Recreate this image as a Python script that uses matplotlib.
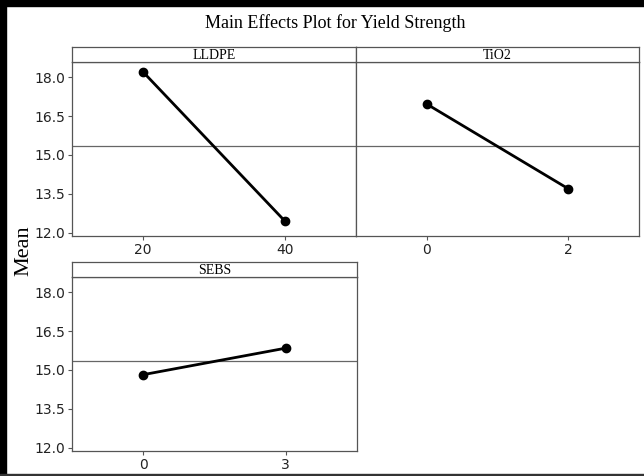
import matplotlib.pyplot as plt
from matplotlib.patches import Rectangle

# 各因子の水準と平均値
factors = ['LLDPE', 'TiO2', 'SEBS']
levels = [[20, 40], [0, 2], [0, 3]]
means = [[18.20, 12.45], [16.96, 13.70], [14.82, 15.84]]
grand_mean = 15.33
yticks = [12.0, 13.5, 15.0, 16.5, 18.0]

W, H = 644, 476
fig = plt.figure(figsize=(W / 100, H / 100), dpi=100)

# パネル位置（ピクセル: 左, 上, 右, 下）
boxes = [(72, 62, 356, 236), (356, 62, 639, 236), (72, 277, 357, 451)]
strip_h = 15
serif = 'Liberation Serif'
edge = '#555555'

for i, (name, lv, mv) in enumerate(zip(factors, levels, means)):
    l, t, r, b = boxes[i]
    ax = fig.add_axes([l / W, 1 - b / H, (r - l) / W, (b - t) / H])
    step = lv[1] - lv[0]
    ax.set_xlim(lv[0] - step / 2, lv[1] + step / 2)
    ax.set_ylim(11.88, 18.58)
    ax.axhline(grand_mean, color='#666666', lw=0.9)
    ax.plot(lv, mv, color='black', lw=2, marker='o', ms=6)
    ax.set_xticks(lv)
    ax.set_xticklabels([str(v) for v in lv])
    if i == 1:
        ax.set_yticks([])
    else:
        ax.set_yticks(yticks)
        ax.set_yticklabels([f'{v:.1f}' for v in yticks])
    ax.tick_params(direction='out', length=3, width=0.8, color=edge,
                   labelsize=10, labelcolor='#222222', pad=2)
    for s in ax.spines.values():
        s.set_color(edge)
        s.set_linewidth(0.9)

    # ストリップ（因子名）
    sx = fig.add_axes([l / W, 1 - t / H, (r - l) / W, strip_h / H])
    sx.set_xticks([])
    sx.set_yticks([])
    for s in sx.spines.values():
        s.set_color(edge)
        s.set_linewidth(0.9)
    sx.text(0.5, 0.45, name, ha='center', va='center', fontsize=10,
            family=serif, transform=sx.transAxes)

fig.text(335 / W, 1 - 23 / H, 'Main Effects Plot for Yield Strength',
         ha='center', va='center', fontsize=13, family=serif)
fig.text(24 / W, 1 - 251 / H, 'Mean', ha='center', va='center',
         rotation=90, fontsize=16, family=serif)

# 外枠
fig.patches.append(Rectangle((0, 0), 6 / W, 1, transform=fig.transFigure,
                             color='black', zorder=10))
fig.patches.append(Rectangle((0, 1 - 6 / H), 1, 6 / H, transform=fig.transFigure,
                             color='black', zorder=10))
fig.patches.append(Rectangle((0, 0), 1, 2 / H, transform=fig.transFigure,
                             color='#333333', zorder=10))

fig.savefig('out.png', dpi=100)
